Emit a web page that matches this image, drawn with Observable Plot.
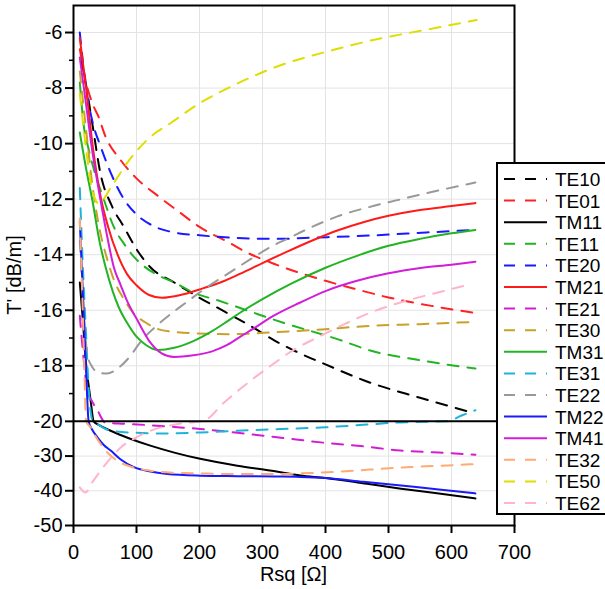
<!DOCTYPE html>
<html><head><meta charset="utf-8">
<script src="https://cdn.jsdelivr.net/npm/d3@7"></script>
<script src="https://cdn.jsdelivr.net/npm/@observablehq/plot@0.6"></script>
<style>body{margin:0;background:#fff;} svg{display:block;}</style>
</head><body><div id="chart"></div>
<script>
// ---- data (Rsq [Ω], T' [dB/m]) ----
const modes  = ["TE10","TE01","TM11","TE11","TE20","TM21","TE21","TE30","TM31","TE31","TE22","TM22","TM41","TE32","TE50","TE62"];
const colors = ["#000000","#ff2222","#000000","#22b422","#1a1aff","#ff1a1a","#d21ed2","#c8a228","#22b422","#1eb4d8","#999999","#1a1aff","#d21ed8","#ffaa74","#dede00","#ffb4cc"];
const dashed = [true,true,false,true,true,false,true,true,false,true,true,false,false,true,true,true];

const TE10 = [[12,-7.0],[20,-7.9],[30,-9.3],[43,-11.1],[60,-12.2],[80,-13.0],[100,-13.8],[122,-14.45],[160,-15.0],[200,-15.55],[240,-16.05],[280,-16.55],[320,-17.1],[350,-17.45],[400,-17.95],[470,-18.6],[550,-19.15],[635,-19.7]];
const TE01 = [[10,-6.6],[20,-7.8],[30,-8.55],[40,-9.05],[50,-9.7],[75,-10.6],[100,-11.25],[135,-11.9],[170,-12.5],[200,-13.0],[250,-13.6],[270,-13.86],[313,-14.28],[400,-14.94],[450,-15.25],[500,-15.54],[570,-15.85],[638,-16.1]];
const TM11 = [[10,-15.0],[15,-16.4],[19,-17.7],[24,-18.7],[28,-19.4],[32,-20.0],[40,-21.0],[59,-22.7],[90,-25.0],[122,-27.0],[160,-29.0],[201,-30.8],[260,-32.8],[320,-34.4],[360,-35.6],[400,-36.3],[466,-38.0],[520,-39.4],[580,-40.8],[638,-42.2]];
const TE11 = [[10,-7.8],[16,-9.3],[24,-10.2],[32,-10.9],[48,-12.0],[64,-13.0],[80,-13.6],[95,-14.05],[111,-14.4],[135,-14.75],[160,-15.0],[191,-15.37],[230,-15.65],[281,-16.05],[333,-16.45],[419,-17.04],[471,-17.45],[550,-17.8],[638,-18.1]];
const TE20 = [[10,-6.0],[20,-8.0],[30,-9.2],[43,-10.1],[60,-11.1],[80,-12.0],[100,-12.55],[130,-13.0],[160,-13.2],[200,-13.3],[260,-13.4],[320,-13.43],[387,-13.38],[480,-13.3],[560,-13.2],[635,-13.11]];
const TM21 = [[10,-6.2],[20,-8.0],[30,-10.0],[43,-11.9],[55,-13.0],[70,-14.0],[85,-14.7],[100,-15.1],[120,-15.45],[140,-15.55],[170,-15.45],[200,-15.25],[233,-15.0],[265,-14.68],[300,-14.3],[340,-13.88],[380,-13.48],[420,-13.12],[460,-12.83],[500,-12.6],[550,-12.39],[600,-12.25],[638,-12.14]];
const TE21 = [[10,-16.2],[15,-17.5],[22,-18.9],[30,-19.3],[38,-19.6],[50,-20.3],[80,-20.7],[120,-21.1],[160,-21.6],[201,-22.2],[260,-23.3],[329,-24.7],[400,-26.2],[460,-27.2],[519,-28.4],[580,-29.0],[638,-29.6]];
const TE30 = [[10,-7.4],[20,-9.5],[30,-11.5],[43,-13.25],[54,-14.2],[64,-14.9],[80,-15.6],[95,-16.1],[115,-16.45],[133,-16.67],[160,-16.78],[191,-16.83],[250,-16.86],[313,-16.8],[400,-16.68],[471,-16.56],[550,-16.5],[635,-16.42]];
const TM31 = [[10,-9.6],[20,-10.9],[30,-12.05],[42,-13.6],[51,-14.45],[62,-15.3],[72,-15.9],[85,-16.45],[100,-16.95],[115,-17.25],[133,-17.43],[160,-17.35],[191,-17.1],[220,-16.75],[244,-16.4],[265,-16.08],[300,-15.6],[344,-15.06],[401,-14.46],[450,-14.04],[500,-13.68],[550,-13.43],[600,-13.23],[638,-13.11]];
const TE31 = [[10,-11.6],[15,-14.5],[20,-16.9],[24,-18.8],[30,-19.95],[40,-21.0],[59,-22.7],[100,-23.3],[149,-23.5],[201,-23.2],[260,-22.7],[329,-22.2],[400,-21.7],[460,-21.0],[519,-20.3],[560,-20.1],[593,-20.0],[615,-19.8],[638,-19.6]];
const TE22 = [[10,-13.5],[15,-15.5],[22,-17.6],[30,-18.05],[40,-18.25],[53,-18.28],[70,-18.1],[90,-17.65],[106,-17.15],[140,-16.4],[180,-15.7],[210,-15.2],[244,-14.7],[281,-14.16],[313,-13.72],[344,-13.38],[371,-13.08],[419,-12.62],[477,-12.24],[524,-11.98],[577,-11.7],[638,-11.4]];
const TM22 = [[10,-12.8],[15,-15.5],[20,-18.2],[24,-20.0],[30,-22.5],[38,-24.6],[48,-26.8],[59,-28.4],[75,-31.0],[96,-33.2],[120,-34.4],[149,-35.2],[201,-35.65],[260,-35.8],[320,-35.9],[360,-36.0],[400,-36.3],[460,-37.4],[520,-38.5],[580,-39.6],[638,-40.75]];
const TM41 = [[10,-6.9],[20,-8.6],[30,-10.3],[43,-12.05],[54,-13.4],[64,-14.45],[75,-15.1],[85,-15.66],[100,-16.3],[120,-17.1],[140,-17.55],[160,-17.68],[190,-17.62],[220,-17.48],[244,-17.25],[265,-16.95],[290,-16.6],[313,-16.26],[360,-15.72],[401,-15.3],[450,-14.94],[500,-14.67],[551,-14.48],[600,-14.36],[638,-14.25]];
const TE32 = [[10,-12.7],[14,-15.5],[17,-18.0],[20,-20.0],[27,-21.7],[35,-24.3],[43,-26.5],[55,-29.2],[69,-31.3],[90,-33.0],[122,-34.2],[160,-34.8],[201,-35.0],[260,-35.2],[320,-35.2],[360,-35.0],[420,-34.5],[470,-33.9],[519,-33.3],[580,-32.8],[638,-32.3]];
const TE50 = [[10,-8.2],[20,-10.2],[30,-11.7],[40,-12.15],[60,-11.55],[85,-10.7],[120,-9.8],[155,-9.25],[200,-8.55],[250,-7.95],[320,-7.25],[400,-6.7],[490,-6.2],[560,-5.9],[640,-5.55]];
const TE62 = [[10,-39.0],[19,-40.5],[30,-37.5],[43,-34.2],[58,-30.8],[75,-27.5],[98,-24.8],[122,-22.7],[150,-21.3],[180,-20.4],[205,-20.0],[240,-19.3],[286,-18.45],[313,-18.0],[350,-17.42],[387,-16.98],[430,-16.5],[470,-16.1],[519,-15.72],[580,-15.35],[630,-15.06]];
const seriesData = [TE10,TE01,TM11,TE11,TE20,TM21,TE21,TE30,TM31,TE31,TE22,TM22,TM41,TE32,TE50,TE62];

const xTicks = [0,100,200,300,400,500,600,700];
const yTicks = [-6,-8,-10,-12,-14,-16,-18,-20,-30,-40,-50];
const yMinor = [-7,-9,-11,-13,-15,-17,-19];

// ---- broken y axis: below -20 the scale is compressed 8x ----
const BREAK = -20, K = 0.125;
const fy = v => v >= BREAK ? v : BREAK + (v - BREAK) * K;
const inv = t => t >= BREAK ? t : BREAK + (t - BREAK) / K;

const FONT = "'Liberation Sans', Arial, sans-serif";
const marks = [
  Plot.gridX(xTicks.slice(1, -1), {stroke: "#e3e3e3", strokeOpacity: 1, strokeWidth: 1}),
  Plot.gridY(yTicks.filter(v => v !== BREAK).map(fy), {stroke: "#e3e3e3", strokeOpacity: 1, strokeWidth: 1}),
];
seriesData.forEach((data, i) => {
  marks.push(Plot.line(data, {
    x: d => d[0], y: d => fy(d[1]),
    stroke: colors[i], strokeWidth: 2,
    strokeDasharray: dashed[i] ? "11,9" : null,
    curve: "monotone-x"
  }));
});
marks.push(
  Plot.ruleY([BREAK], {stroke: "black", strokeWidth: 2}),
  Plot.frame({stroke: "black", strokeWidth: 2}),
  Plot.axisX(xTicks, {tickSize: 8, tickPadding: 11, fontSize: 20, label: null, strokeWidth: 2}),
  Plot.axisY(yTicks.map(fy), {tickSize: 8, tickPadding: 3, fontSize: 20, label: null, strokeWidth: 2,
    tickFormat: t => String(Math.round(inv(t)))}),
  Plot.axisY(yMinor.map(fy), {tickSize: 4, tickFormat: () => "", label: null, strokeWidth: 1.5})
);

const svg = Plot.plot({
  width: 605, height: 589,
  marginLeft: 73, marginTop: 5, marginRight: 91, marginBottom: 64,
  style: {fontFamily: FONT, fontSize: "20px", color: "#000", background: "#fff", overflow: "visible"},
  x: {domain: [0, 700]},
  y: {domain: [fy(-50), -5.027]},
  marks
});

// axis titles
const s = d3.select(svg);
s.append("text").attr("x", 293.5).attr("y", 581).attr("text-anchor", "middle")
  .attr("font-family", FONT).attr("font-size", 20).attr("fill", "#000").text("Rsq [Ω]");
s.append("text").attr("transform", "translate(21,275) rotate(-90)").attr("text-anchor", "middle")
  .attr("font-family", FONT).attr("font-size", 20).attr("fill", "#000").text("T' [dB/m]");

// legend (drawn over the plot, like the reference)
const lg = s.append("g").attr("text-anchor", "start");
lg.append("rect").attr("x", 497).attr("y", 163).attr("width", 130).attr("height", 351)
  .attr("fill", "#fff").attr("stroke", "#000").attr("stroke-width", 2);
modes.forEach((m, i) => {
  const y = 179 + i * 21.6;
  lg.append("line").attr("x1", 504).attr("x2", 547).attr("y1", y).attr("y2", y)
    .attr("stroke", colors[i]).attr("stroke-width", 2)
    .attr("stroke-dasharray", dashed[i] ? "11,10" : null);
  lg.append("text").attr("x", 555).attr("y", y + 7).attr("text-anchor", "start")
    .attr("font-family", FONT).attr("font-size", 19).attr("fill", "#000").text(m);
});

document.getElementById("chart").appendChild(svg);
</script>
</body></html>
